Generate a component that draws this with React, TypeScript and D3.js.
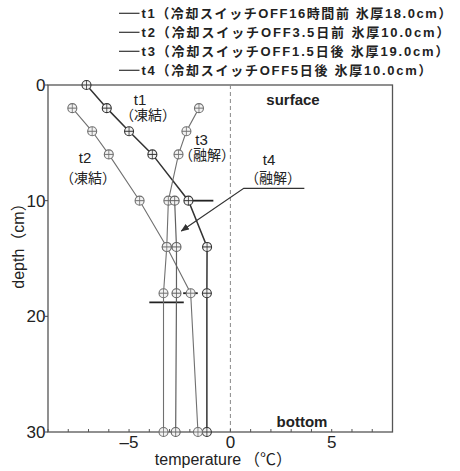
import React from 'react';
import * as d3 from 'd3';

const width = 460;
const height = 471;
const frame = { left: 48, right: 392.5, top: 85, bottom: 432 };

// temperature profiles (depth cm, temp degC)
const t1Depth = [0, 2, 4, 6, 10, 14, 18, 30];
const t1Temp = [-7.1, -6.1, -5.0, -3.85, -2.07, -1.15, -1.16, -1.16];
const t2Depth = [2, 4, 6, 10, 14, 18, 30];
const t2Temp = [-7.8, -6.82, -6.0, -4.48, -3.14, -1.96, -1.6];
const t3Depth = [2, 4, 6, 10, 14, 18, 30];
const t3Temp = [-1.55, -2.17, -2.56, -3.06, -3.14, -3.3, -3.3];
const t4Depth = [10, 14, 18, 30];
const t4Temp = [-2.75, -2.66, -2.66, -2.7];

const legendLabels = [
  't1（冷却スイッチOFF16時間前 氷厚18.0cm）',
  't2（冷却スイッチOFF3.5日前 氷厚10.0cm）',
  't3（冷却スイッチOFF1.5日後 氷厚19.0cm）',
  't4（冷却スイッチOFF5日後 氷厚10.0cm）'
];
const legendWidths = [310, 308, 307, 290];

// ice thickness marks: depth, from temp, to temp
const iceDepth = [10, 18, 18.8];
const iceFrom = [-2.12, -2.33, -4.0];
const iceTo = [-0.84, -1.61, -2.3];

const xTicks = [-5, 0, 5];
const yTicks = [0, 10, 20, 30];

const x = d3.scaleLinear().domain([-9, 8]).range([frame.left, frame.right]);
const y = d3.scaleLinear().domain([0, 30]).range([frame.top, frame.bottom]);

const series = [
  { depth: t1Depth, temp: t1Temp, color: '#333', w: 1.5 },
  { depth: t2Depth, temp: t2Temp, color: '#707070', w: 1.1 },
  { depth: t3Depth, temp: t3Temp, color: '#707070', w: 1.1 },
  { depth: t4Depth, temp: t4Temp, color: '#606060', w: 1.2 }
];

const line = d3
  .line<[number, number]>()
  .x((d) => x(d[0]))
  .y((d) => y(d[1]));

const font = '"Liberation Sans", Arial, "Noto Sans CJK JP", sans-serif';
const cjk = '"Liberation Sans", "Noto Sans CJK JP", sans-serif';

function Marker({ cx, cy, color }: { cx: number; cy: number; color: string }) {
  const r = 4.5;
  return (
    <g>
      <circle cx={cx} cy={cy} r={r} fill="#f2f2f2" stroke={color} strokeWidth={1.1} />
      <line x1={cx - r} x2={cx + r} y1={cy} y2={cy} stroke={color} strokeWidth={1} />
      <line x1={cx} x2={cx} y1={cy - r} y2={cy + r} stroke={color} strokeWidth={0.8} />
    </g>
  );
}

export default function App() {
  const minorTicks = d3.range(-9, 9, 1);
  const arrow: [number, number][] = [
    [3.65, 8.93],
    [0.66, 8.93],
    [-2.42, 12.62]
  ];

  return (
    <svg width={width} height={height} style={{ position: 'absolute', left: 0, top: 0, background: 'white' }}>
      <defs>
        <marker id="ah" viewBox="0 0 10 10" refX="9" refY="5" markerWidth="7" markerHeight="7" orient="auto">
          <path d="M0,1 L10,5 L0,9 z" fill="#333" />
        </marker>
      </defs>

      {/* legend */}
      {legendLabels.map((lab, i) => {
        const ly = 13.3 + i * 19;
        return (
          <g key={lab}>
            <line x1={119} x2={139.5} y1={ly} y2={ly} stroke="#333" strokeWidth={1.2} />
            <text
              x={141.5}
              y={ly + 4.8}
              fontFamily={cjk}
              fontSize={13}
              fontWeight="bold"
              fill="#222"
              textLength={legendWidths[i]}
              lengthAdjust="spacing"
            >
              {lab}
            </text>
          </g>
        );
      })}

      {/* frame */}
      <rect
        x={frame.left}
        y={frame.top}
        width={frame.right - frame.left}
        height={frame.bottom - frame.top}
        fill="none"
        stroke="#555"
        strokeWidth={1.3}
      />

      {/* zero line */}
      <line x1={x(0)} x2={x(0)} y1={frame.top} y2={frame.bottom} stroke="#888" strokeWidth={1} strokeDasharray="4,3" />

      {/* minor x ticks */}
      {minorTicks.map((t) => (
        <line key={t} x1={x(t)} x2={x(t)} y1={frame.bottom} y2={frame.bottom - 3} stroke="#555" strokeWidth={1} />
      ))}

      {/* tick labels */}
      {xTicks.map((t) => (
        <text key={t} x={x(t)} y={448} textAnchor="middle" fontFamily={font} fontSize={17} fill="#222">
          {t < 0 ? '–' + Math.abs(t) : t}
        </text>
      ))}
      {yTicks.map((t) => (
        <g key={t}>
          <line x1={frame.left - 3} x2={frame.left} y1={y(t)} y2={y(t)} stroke="#444" />
          <text x={45.5} y={y(t) + 6} textAnchor="end" fontFamily={font} fontSize={17} fill="#222">
            {t}
          </text>
        </g>
      ))}

      {/* axis titles */}
      <text x={198} y={465} textAnchor="middle" fontFamily={font} fontSize={16} fill="#222">
        temperature
      </text>
      <text x={268} y={465} textAnchor="middle" fontFamily={cjk} fontSize={16} fill="#222">
        （℃）
      </text>
      <text
        transform={`translate(24,242) rotate(-90)`}
        textAnchor="middle"
        fontFamily={cjk}
        fontSize={16}
        fill="#222"
      >
        depth（cm）
      </text>

      {/* ice thickness marks */}
      {iceDepth.map((d, i) => (
        <line key={i} x1={x(iceFrom[i])} x2={x(iceTo[i])} y1={y(d)} y2={y(d)} stroke="#222" strokeWidth={1.8} />
      ))}

      {/* series */}
      {series.map((s, i) => {
        const pts = s.depth.map((d, j) => [s.temp[j], d] as [number, number]);
        return (
          <g key={i}>
            <path d={line(pts) || ''} fill="none" stroke={s.color} strokeWidth={s.w} />
            {pts.map((p, j) => (
              <Marker key={j} cx={x(p[0])} cy={y(p[1])} color={s.color} />
            ))}
          </g>
        );
      })}

      {/* arrow for t4 */}
      <path d={line(arrow) || ''} fill="none" stroke="#333" strokeWidth={1.2} markerEnd="url(#ah)" />

      {/* annotations */}
      <g fontFamily={cjk} fill="#222" textAnchor="middle">
        <text x={140} y={105} fontSize={15}>t1</text>
        <text x={148} y={120} fontSize={14}>（凍結）</text>
        <text x={85} y={163} fontSize={15}>t2</text>
        <text x={88} y={183} fontSize={14}>（凍結）</text>
        <text x={201.5} y={145} fontSize={15}>t3</text>
        <text x={207} y={160} fontSize={14}>（融解）</text>
        <text x={269} y={165} fontSize={15}>t4</text>
        <text x={273} y={183} fontSize={14}>（融解）</text>
        <text x={293} y={105} fontSize={15} fontWeight="bold">surface</text>
        <text x={302} y={427} fontSize={15} fontWeight="bold">bottom</text>
      </g>
    </svg>
  );
}
